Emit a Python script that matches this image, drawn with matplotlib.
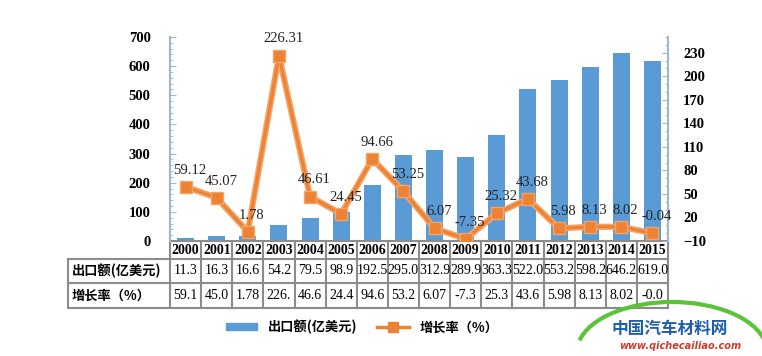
import numpy as np
import matplotlib
matplotlib.use('Agg')
import matplotlib.pyplot as plt
from matplotlib.transforms import blended_transform_factory
from matplotlib.lines import Line2D
from matplotlib.patches import Patch, Arc

plt.rcParams['font.family'] = ['Noto Sans CJK SC', 'DejaVu Sans']

# data
years = ['2000', '2001', '2002', '2003', '2004', '2005', '2006', '2007',
         '2008', '2009', '2010', '2011', '2012', '2013', '2014', '2015']
export_vals = [11.3, 16.3, 16.6, 54.2, 79.5, 98.9, 192.5, 295.0,
               312.9, 289.9, 363.3, 522.0, 553.2, 598.2, 646.2, 619.0]
growth_vals = [59.12, 45.07, 1.78, 226.31, 46.61, 24.45, 94.66, 53.25,
               6.07, -7.35, 25.32, 43.68, 5.98, 8.13, 8.02, -0.04]
growth_labels = ['59.12', '45.07', '1.78', '226.31', '46.61', '24.45', '94.66', '53.25',
                 '6.07', '-7.35', '25.32', '43.68', '5.98', '8.13', '8.02', '-0.04']
export_text = ['11.3', '16.3', '16.6', '54.2', '79.5', '98.9', '192.5', '295.0',
               '312.9', '289.9', '363.3', '522.0', '553.2', '598.2', '646.2', '619.0']
growth_text = ['59.1', '45.0', '1.78', '226.', '46.6', '24.4', '94.6', '53.2',
               '6.07', '-7.3', '25.3', '43.6', '5.98', '8.13', '8.02', '-0.0']
row_labels = ['出口额(亿美元)', '增长率（%）']
left_ticks = [0, 100, 200, 300, 400, 500, 600, 700]
right_ticks = [-10, 20, 50, 80, 110, 140, 170, 200, 230]

BLUE = '#5B9BD5'
ORANGE = '#EE8234'
GRID = '#8C8C8C'
AXIS = '#9DB7D0'
NUM = 'Liberation Serif'

fig = plt.figure(figsize=(7.62, 3.56), dpi=100)
ax = fig.add_axes([170 / 762, 1 - 241 / 356, 498 / 762, 204 / 356])

x = np.arange(len(years))
ax.bar(x, export_vals, width=0.55, color=BLUE, zorder=2)
ax.set_xlim(-0.5, len(years) - 0.5)
ax.set_ylim(0, 700)
ax.set_xticks([])
ax.set_yticks(left_ticks)
ax.set_yticks(np.arange(0, 701, 20), minor=True)
ax.tick_params(axis='y', which='both', direction='in', color=AXIS, pad=14)
ax.tick_params(axis='y', which='major', length=4)
ax.tick_params(axis='y', which='minor', length=2)
for lab in ax.get_yticklabels():
    lab.set_family(NUM)
    lab.set_fontweight('bold')
    lab.set_fontsize(10.5)
for s in ['top', 'bottom', 'right']:
    ax.spines[s].set_visible(False)
ax.spines['left'].set_color(AXIS)
ax.spines['left'].set_linewidth(1.5)

ax2 = ax.twinx()
ax2.plot(x, growth_vals, color='#F5A468', lw=4.5, zorder=3, solid_capstyle='round')
ax2.plot(x, growth_vals, color=ORANGE, lw=2.2, marker='s', markersize=8,
         markerfacecolor=ORANGE, markeredgecolor='#F5A468', zorder=4)
ax2.set_ylim(-10, 250)
ax2.set_yticks(right_ticks)
ax2.set_yticks(np.arange(-10, 251, 10), minor=True)
ax2.tick_params(axis='y', which='both', direction='in', color=AXIS, pad=11)
ax2.tick_params(axis='y', which='major', length=4)
ax2.tick_params(axis='y', which='minor', length=2)
for lab in ax2.get_yticklabels():
    lab.set_family(NUM)
    lab.set_fontweight('bold')
    lab.set_fontsize(10.5)
for s in ['top', 'bottom', 'left']:
    ax2.spines[s].set_visible(False)
ax2.spines['right'].set_color(AXIS)
ax2.spines['right'].set_linewidth(1.5)

# data labels on the growth line
for xi, yi, txt in zip(x, growth_vals, growth_labels):
    ax2.annotate(txt, (xi, yi), xytext=(3, 12), textcoords='offset points',
                 ha='center', va='center', family=NUM, fontsize=10.5,
                 color='#222222', zorder=5)

# data table under the plot
tr = blended_transform_factory(ax.transData, ax.transAxes)
h = 204.0
ys = [0, -18 / h, -42 / h, -67 / h]
xl = -0.5 - 102 / 31.125
xr = len(years) - 0.5
kw = dict(transform=tr, color=GRID, lw=1.5, clip_on=False)
ax.add_line(Line2D([-0.5, xr], [ys[0], ys[0]], **kw))
for yy in ys[1:]:
    ax.add_line(Line2D([xl, xr], [yy, yy], **kw))
for k in range(len(years) + 1):
    ax.add_line(Line2D([k - 0.5, k - 0.5], [ys[0], ys[3]], **kw))
ax.add_line(Line2D([xl, xl], [ys[1], ys[3]], **kw))

for xi, yr, ev, gv in zip(x, years, export_text, growth_text):
    ax.text(xi, (ys[0] + ys[1]) / 2, yr, transform=tr, ha='center', va='center',
            family=NUM, fontweight='bold', fontsize=10)
    ax.text(xi, (ys[1] + ys[2]) / 2, ev, transform=tr, ha='center', va='center',
            family=NUM, fontsize=10)
    ax.text(xi, (ys[2] + ys[3]) / 2, gv, transform=tr, ha='center', va='center',
            family=NUM, fontsize=10)
for i, lab in enumerate(row_labels):
    ax.text(xl + 0.12, (ys[i + 1] + ys[i + 2]) / 2, lab, transform=tr,
            ha='left', va='center', fontweight='bold', fontsize=9.5)

# legend
handles = [Patch(facecolor=BLUE, edgecolor=BLUE),
           Line2D([], [], color=ORANGE, lw=2.5, marker='s', markersize=7)]
fig.legend(handles, row_labels, loc='center', bbox_to_anchor=(362 / 762, 1 - 327 / 356),
           ncol=2, frameon=False, fontsize=9.5, handlelength=2.4, handleheight=0.5,
           columnspacing=1.5, prop={'weight': 'bold', 'size': 9.5})

# watermark
fig.add_artist(Arc((672 / 762, 1 - 352 / 356), 190 / 762, 100 / 356, theta1=15, theta2=165,
                   transform=fig.transFigure, color='#5CC23A', lw=3))
fig.text(670 / 762, 1 - 329 / 356, '中国汽车材料网', color='#1D5FAE', fontsize=12,
         fontweight='bold', ha='center', va='center')
fig.text(680 / 762, 1 - 346 / 356, 'www.qichecailiao.com', color='#D03A2E', fontsize=7,
         fontweight='bold', style='italic', ha='center', va='center', family='DejaVu Sans')

fig.savefig('out.png', dpi=100)
